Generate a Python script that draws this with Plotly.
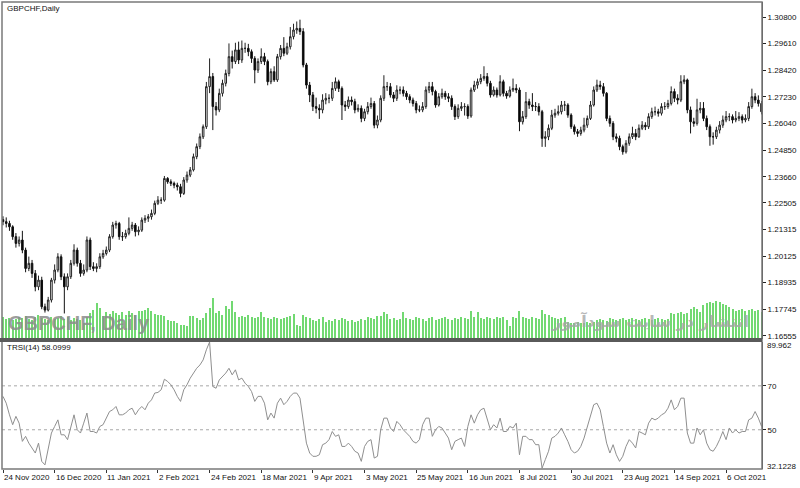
import plotly.graph_objects as go

symbol_label = "GBPCHF,Daily"
indicator_label = "TRSI(14) 58.0999"

date_labels = ["24 Nov 2020", "16 Dec 2020", "11 Jan 2021", "2 Feb 2021", "24 Feb 2021",
               "18 Mar 2021", "9 Apr 2021", "3 May 2021", "25 May 2021", "16 Jun 2021",
               "8 Jul 2021", "30 Jul 2021", "23 Aug 2021", "14 Sep 2021", "6 Oct 2021"]
date_label_bars = [0, 16, 32, 48, 64, 80, 96, 112, 128, 144, 160, 176, 192, 208, 224]

price_ticks = [1.30800, 1.29610, 1.28420, 1.27230, 1.26040, 1.24850, 1.23660,
               1.22505, 1.21315, 1.20125, 1.18935, 1.17745, 1.16555]
price_tick_text = ["1.30800", "1.29610", "1.28420", "1.27230", "1.26040", "1.24850", "1.23660",
                   "1.22505", "1.21315", "1.20125", "1.18935", "1.17745", "1.16555"]

close_ = [
    1.2166, 1.2158, 1.2143, 1.2099, 1.2069, 1.2084, 1.2039, 1.1957, 1.1980, 1.1935,
    1.1875, 1.1905, 1.1786, 1.1771, 1.1816, 1.1905, 1.1950, 1.2009, 1.1920, 1.1875,
    1.1920, 1.1980, 1.2039, 1.1980, 1.1935, 1.1950, 1.2084, 1.1965, 1.1957, 1.1965,
    1.2009, 1.2024, 1.2039, 1.2099, 1.2151, 1.2158, 1.2099, 1.2099, 1.2114, 1.2136,
    1.2151, 1.2121, 1.2128, 1.2173, 1.2181, 1.2188, 1.2203, 1.2248, 1.2262, 1.2262,
    1.2359, 1.2344, 1.2337, 1.2329, 1.2322, 1.2292, 1.2352, 1.2374, 1.2397, 1.2456,
    1.2501, 1.2545, 1.2590, 1.2769, 1.2814, 1.2680, 1.2665, 1.2739, 1.2784, 1.2828,
    1.2903, 1.2881, 1.2933, 1.2888, 1.2940, 1.2940, 1.2925, 1.2895, 1.2843, 1.2881,
    1.2903, 1.2881, 1.2791, 1.2836, 1.2799, 1.2903, 1.2940, 1.2918, 1.2947, 1.2992,
    1.3022, 1.3029, 1.3015, 1.2866, 1.2776, 1.2732, 1.2680, 1.2672, 1.2665, 1.2709,
    1.2717, 1.2717, 1.2761, 1.2791, 1.2761, 1.2687, 1.2680, 1.2709, 1.2702, 1.2665,
    1.2672, 1.2627, 1.2657, 1.2680, 1.2694, 1.2597, 1.2620, 1.2717, 1.2769, 1.2769,
    1.2732, 1.2717, 1.2754, 1.2754, 1.2739, 1.2724, 1.2709, 1.2694, 1.2665, 1.2665,
    1.2680, 1.2754, 1.2769, 1.2747, 1.2687, 1.2724, 1.2739, 1.2724, 1.2717, 1.2680,
    1.2635, 1.2672, 1.2680, 1.2680, 1.2638, 1.2754, 1.2776, 1.2791, 1.2806, 1.2814,
    1.2784, 1.2732, 1.2754, 1.2732, 1.2791, 1.2739, 1.2727, 1.2754, 1.2761, 1.2754,
    1.2612, 1.2635, 1.2702, 1.2687, 1.2680, 1.2680, 1.2657, 1.2538, 1.2545, 1.2583,
    1.2642, 1.2650, 1.2657, 1.2687, 1.2687, 1.2642, 1.2590, 1.2568, 1.2560, 1.2575,
    1.2597, 1.2627, 1.2687, 1.2754, 1.2776, 1.2769, 1.2739, 1.2627, 1.2605, 1.2545,
    1.2538, 1.2501, 1.2478, 1.2516, 1.2545, 1.2560, 1.2545, 1.2583, 1.2597, 1.2590,
    1.2635, 1.2657, 1.2657, 1.2650, 1.2680, 1.2680, 1.2694, 1.2747, 1.2717, 1.2709,
    1.2791, 1.2799, 1.2665, 1.2612, 1.2605, 1.2665, 1.2672, 1.2627, 1.2590, 1.2545,
    1.2545, 1.2575, 1.2597, 1.2620, 1.2635, 1.2635, 1.2620, 1.2627, 1.2635, 1.2620,
    1.2627, 1.2680, 1.2724, 1.2709, 1.2694, 1.2657]

open_ = [
    1.2175, 1.2166, 1.2158, 1.2143, 1.2099, 1.2069, 1.2084, 1.2039, 1.1957, 1.1980,
    1.1935, 1.1875, 1.1905, 1.1786, 1.1771, 1.1816, 1.1905, 1.1950, 1.2009, 1.1920,
    1.1875, 1.1920, 1.1980, 1.2039, 1.1980, 1.1935, 1.1950, 1.2084, 1.1965, 1.1957,
    1.1965, 1.2009, 1.2024, 1.2039, 1.2099, 1.2151, 1.2158, 1.2099, 1.2099, 1.2114,
    1.2136, 1.2151, 1.2121, 1.2128, 1.2173, 1.2181, 1.2188, 1.2203, 1.2248, 1.2262,
    1.2262, 1.2359, 1.2344, 1.2337, 1.2329, 1.2322, 1.2292, 1.2352, 1.2374, 1.2397,
    1.2456, 1.2501, 1.2545, 1.2590, 1.2769, 1.2814, 1.2680, 1.2665, 1.2739, 1.2784,
    1.2828, 1.2903, 1.2881, 1.2933, 1.2888, 1.2940, 1.2940, 1.2925, 1.2895, 1.2843,
    1.2881, 1.2903, 1.2881, 1.2791, 1.2836, 1.2799, 1.2903, 1.2940, 1.2918, 1.2947,
    1.2992, 1.3022, 1.3029, 1.3015, 1.2866, 1.2776, 1.2732, 1.2680, 1.2672, 1.2665,
    1.2709, 1.2717, 1.2717, 1.2761, 1.2791, 1.2761, 1.2687, 1.2680, 1.2709, 1.2702,
    1.2665, 1.2672, 1.2627, 1.2657, 1.2680, 1.2694, 1.2597, 1.2620, 1.2717, 1.2769,
    1.2769, 1.2732, 1.2717, 1.2754, 1.2754, 1.2739, 1.2724, 1.2709, 1.2694, 1.2665,
    1.2665, 1.2680, 1.2754, 1.2769, 1.2747, 1.2687, 1.2724, 1.2739, 1.2724, 1.2717,
    1.2680, 1.2635, 1.2672, 1.2680, 1.2680, 1.2638, 1.2754, 1.2776, 1.2791, 1.2806,
    1.2814, 1.2784, 1.2732, 1.2754, 1.2732, 1.2791, 1.2739, 1.2727, 1.2754, 1.2761,
    1.2754, 1.2612, 1.2635, 1.2702, 1.2687, 1.2680, 1.2680, 1.2657, 1.2538, 1.2545,
    1.2583, 1.2642, 1.2650, 1.2657, 1.2687, 1.2687, 1.2642, 1.2590, 1.2568, 1.2560,
    1.2575, 1.2597, 1.2627, 1.2687, 1.2754, 1.2776, 1.2769, 1.2739, 1.2627, 1.2605,
    1.2545, 1.2538, 1.2501, 1.2478, 1.2516, 1.2545, 1.2560, 1.2545, 1.2583, 1.2597,
    1.2590, 1.2635, 1.2657, 1.2657, 1.2650, 1.2680, 1.2680, 1.2694, 1.2747, 1.2717,
    1.2709, 1.2791, 1.2799, 1.2665, 1.2612, 1.2605, 1.2665, 1.2672, 1.2627, 1.2590,
    1.2545, 1.2545, 1.2575, 1.2597, 1.2620, 1.2635, 1.2635, 1.2620, 1.2627, 1.2635,
    1.2620, 1.2627, 1.2680, 1.2724, 1.2709, 1.2694]

high = [
    1.2190, 1.2185, 1.2170, 1.2150, 1.2115, 1.2100, 1.2125, 1.2050, 1.2010, 1.1995,
    1.1950, 1.1925, 1.1920, 1.1800, 1.1830, 1.1915, 1.1975, 1.2025, 1.2020, 1.1935,
    1.1935, 1.1995, 1.2065, 1.2050, 1.1995, 1.1975, 1.2100, 1.2095, 1.1985, 1.1980,
    1.2025, 1.2040, 1.2055, 1.2110, 1.2165, 1.2170, 1.2165, 1.2120, 1.2130, 1.2185,
    1.2165, 1.2160, 1.2145, 1.2185, 1.2195, 1.2200, 1.2220, 1.2260, 1.2280, 1.2275,
    1.2370, 1.2365, 1.2355, 1.2345, 1.2340, 1.2335, 1.2365, 1.2390, 1.2410, 1.2470,
    1.2515, 1.2560, 1.2600, 1.2790, 1.2895, 1.2830, 1.2700, 1.2760, 1.2800, 1.2845,
    1.2962, 1.2930, 1.2965, 1.2970, 1.2975, 1.2965, 1.2960, 1.2935, 1.2905, 1.2895,
    1.2940, 1.2920, 1.2890, 1.2850, 1.2860, 1.2915, 1.2955, 1.2990, 1.2965, 1.3035,
    1.3050, 1.3060, 1.3068, 1.3030, 1.2875, 1.2790, 1.2745, 1.2720, 1.2690, 1.2735,
    1.2740, 1.2735, 1.2790, 1.2810, 1.2800, 1.2770, 1.2705, 1.2725, 1.2725, 1.2715,
    1.2690, 1.2685, 1.2670, 1.2700, 1.2720, 1.2705, 1.2640, 1.2730, 1.2820, 1.2790,
    1.2785, 1.2745, 1.2775, 1.2770, 1.2770, 1.2750, 1.2735, 1.2720, 1.2705, 1.2685,
    1.2700, 1.2770, 1.2790, 1.2790, 1.2755, 1.2740, 1.2760, 1.2750, 1.2740, 1.2730,
    1.2690, 1.2690, 1.2700, 1.2695, 1.2690, 1.2765, 1.2795, 1.2805, 1.2825, 1.2860,
    1.2830, 1.2795, 1.2770, 1.2765, 1.2820, 1.2800, 1.2750, 1.2770, 1.2805, 1.2780,
    1.2765, 1.2660, 1.2745, 1.2715, 1.2740, 1.2700, 1.2695, 1.2665, 1.2570, 1.2600,
    1.2665, 1.2670, 1.2685, 1.2705, 1.2705, 1.2695, 1.2650, 1.2600, 1.2580, 1.2590,
    1.2630, 1.2640, 1.2705, 1.2770, 1.2800, 1.2795, 1.2785, 1.2745, 1.2640, 1.2615,
    1.2560, 1.2550, 1.2510, 1.2530, 1.2560, 1.2590, 1.2580, 1.2600, 1.2615, 1.2610,
    1.2650, 1.2675, 1.2680, 1.2670, 1.2695, 1.2700, 1.2710, 1.2770, 1.2760, 1.2735,
    1.2820, 1.2820, 1.2805, 1.2680, 1.2630, 1.2715, 1.2700, 1.2700, 1.2640, 1.2600,
    1.2565, 1.2590, 1.2615, 1.2640, 1.2660, 1.2650, 1.2645, 1.2660, 1.2655, 1.2645,
    1.2645, 1.2700, 1.2760, 1.2740, 1.2730, 1.2705]

low = [
    1.2150, 1.2140, 1.2125, 1.2085, 1.2050, 1.2055, 1.2025, 1.1940, 1.1945, 1.1915,
    1.1855, 1.1860, 1.1775, 1.1760, 1.1765, 1.1805, 1.1890, 1.1940, 1.1905, 1.1756,
    1.1860, 1.1910, 1.1970, 1.1965, 1.1920, 1.1925, 1.1940, 1.1950, 1.1945, 1.1940,
    1.1955, 1.2000, 1.2015, 1.2030, 1.2090, 1.2135, 1.2085, 1.2080, 1.2090, 1.2105,
    1.2125, 1.2100, 1.2105, 1.2120, 1.2160, 1.2165, 1.2175, 1.2195, 1.2240, 1.2245,
    1.2255, 1.2335, 1.2325, 1.2315, 1.2305, 1.2275, 1.2285, 1.2340, 1.2365, 1.2390,
    1.2445, 1.2490, 1.2535, 1.2580, 1.2740, 1.2575, 1.2640, 1.2655, 1.2725, 1.2770,
    1.2815, 1.2850, 1.2870, 1.2870, 1.2875, 1.2920, 1.2905, 1.2875, 1.2784, 1.2830,
    1.2870, 1.2865, 1.2775, 1.2780, 1.2790, 1.2790, 1.2890, 1.2905, 1.2910, 1.2935,
    1.2980, 1.3005, 1.3000, 1.2855, 1.2760, 1.2700, 1.2660, 1.2650, 1.2625, 1.2650,
    1.2690, 1.2695, 1.2705, 1.2750, 1.2745, 1.2620, 1.2660, 1.2670, 1.2685, 1.2650,
    1.2655, 1.2610, 1.2615, 1.2645, 1.2670, 1.2583, 1.2583, 1.2610, 1.2705, 1.2750,
    1.2720, 1.2700, 1.2705, 1.2735, 1.2725, 1.2710, 1.2695, 1.2680, 1.2650, 1.2655,
    1.2655, 1.2670, 1.2740, 1.2730, 1.2675, 1.2680, 1.2715, 1.2710, 1.2700, 1.2665,
    1.2620, 1.2625, 1.2660, 1.2640, 1.2625, 1.2630, 1.2745, 1.2760, 1.2780, 1.2795,
    1.2770, 1.2720, 1.2725, 1.2720, 1.2725, 1.2725, 1.2715, 1.2720, 1.2745, 1.2740,
    1.2570, 1.2600, 1.2625, 1.2670, 1.2660, 1.2660, 1.2640, 1.2500, 1.2500, 1.2530,
    1.2575, 1.2630, 1.2640, 1.2645, 1.2660, 1.2630, 1.2580, 1.2555, 1.2545, 1.2550,
    1.2565, 1.2585, 1.2620, 1.2680, 1.2745, 1.2755, 1.2725, 1.2615, 1.2590, 1.2530,
    1.2520, 1.2485, 1.2465, 1.2470, 1.2505, 1.2535, 1.2530, 1.2540, 1.2575, 1.2575,
    1.2580, 1.2625, 1.2640, 1.2635, 1.2640, 1.2665, 1.2670, 1.2685, 1.2700, 1.2690,
    1.2700, 1.2780, 1.2650, 1.2560, 1.2590, 1.2595, 1.2650, 1.2615, 1.2575, 1.2505,
    1.2510, 1.2535, 1.2560, 1.2585, 1.2610, 1.2615, 1.2605, 1.2610, 1.2615, 1.2605,
    1.2610, 1.2615, 1.2670, 1.2695, 1.2680, 1.2645]

# tick volume (thousands)
volume = [
    22, 20, 21, 19, 20, 22, 21, 23, 20, 19, 22, 24, 21, 20, 19, 22, 20, 21, 23, 20,
    22, 19, 21, 20,
    19, 16, 22, 26, 29, 36, 31, 23, 27, 25, 28, 26, 24, 27, 24, 28, 26, 24, 28, 28,
    29, 31, 28, 25, 24, 24, 23, 19, 18, 18, 16, 14, 14, 13, 23, 23, 21, 19, 21, 26, 31,
    41,
    26, 28, 24, 33, 30, 38, 27, 22, 23, 22, 24, 22, 21, 22,
    27, 22, 21, 20, 22, 21, 20, 21, 22, 23, 25, 14, 13,
    24, 22, 21, 19, 18, 20, 22, 17, 19, 18, 20, 19, 21, 20, 18, 19, 17, 18, 20, 19, 22, 21, 20, 23,
    23, 27, 25, 20, 21, 19, 20, 27, 21, 20, 19, 22, 21, 20, 18, 21, 22, 19, 20, 21, 22, 20, 19, 21,
    20, 22, 21, 20,
    28, 22, 27, 21, 20, 22, 21, 20, 22, 21, 22, 19, 13, 22, 21,
    28,
    22, 21, 20, 22, 21, 20, 29, 25, 24, 22, 21, 20, 21, 22,
    17, 16, 16, 17, 16, 16, 17, 16, 17,
    19, 20, 19, 18, 21, 20, 19, 20, 21, 19, 20, 21, 20, 19, 20, 21, 20, 19, 20, 21, 20, 19, 20,
    26, 25, 26, 27, 25, 26, 30, 32, 30, 27,
    34, 36, 37, 36, 38, 37, 35, 34, 32,
    30, 28, 29, 30, 28, 29, 30, 28, 29, 27]

trsi = [
    65.2, 62.1, 56.8, 52.3, 56.1, 53.0, 44.7, 47.0, 43.9, 41.7,
    39.4, 43.9, 35.6, 34.0, 40.9, 48.5, 51.5, 54.5, 47.7, 47.7,
    45.5, 51.5, 56.8, 50.0, 48.5, 53.0, 57.6, 49.2, 49.2, 48.5,
    51.5, 52.3, 55.3, 58.3, 59.1, 60.6, 56.8, 56.8, 57.6, 59.1,
    59.8, 56.8, 59.1, 60.6, 59.1, 62.1, 63.6, 66.7, 67.0, 68.2,
    73.0, 72.0, 70.5, 68.2, 65.2, 62.9, 68.2, 70.5, 73.5, 75.8,
    78.0, 79.5, 81.8, 86.4, 89.962, 69.7, 68.9, 72.7, 74.2, 75.8,
    78.0, 75.0, 77.3, 72.7, 73.5, 71.2, 69.7, 67.4, 62.9, 65.2,
    65.2, 62.1, 54.5, 57.6, 55.3, 62.1, 64.4, 61.4, 62.9, 65.2,
    66.7, 66.7, 64.4, 53.0, 43.9, 39.4, 37.9, 37.9, 38.6, 43.2,
    43.9, 45.5, 49.2, 47.0, 47.7, 42.4, 42.4, 43.9, 42.4, 40.2,
    39.4, 35.6, 42.4, 44.7, 45.5, 37.1, 37.9, 50.0, 55.3, 55.3,
    50.8, 49.2, 53.8, 52.3, 50.0, 48.5, 47.0, 44.7, 43.9, 45.5,
    52.3, 55.3, 55.3, 47.0, 50.0, 51.5, 50.8, 48.5, 46.2, 40.9,
    44.7, 45.5, 46.2, 42.4, 51.5, 56.8, 53.0, 56.8, 59.1, 59.8,
    55.3, 50.0, 52.3, 50.8, 55.3, 49.2, 49.2, 51.5, 50.8, 53.0,
    38.6, 47.0, 47.0, 45.5, 45.5, 43.2, 43.2, 32.5, 36.4, 40.2,
    46.2, 47.0, 48.5, 50.8, 47.7, 44.7, 40.9, 39.4, 40.2, 42.4,
    46.2, 51.5, 56.8, 61.4, 62.1, 59.1, 51.5, 43.9, 39.4, 43.2,
    38.6, 35.6, 37.9, 42.4, 45.5, 43.9, 41.7, 49.2, 48.5, 47.7,
    53.0, 55.3, 54.5, 55.3, 56.8, 57.6, 59.8, 63.6, 59.1, 60.6,
    64.4, 64.4, 48.5, 43.9, 43.9, 50.8, 47.7, 50.0, 43.9, 40.9,
    40.2, 42.4, 45.5, 49.2, 45.5, 50.8, 48.5, 50.0, 48.5, 49.2,
    49.2, 54.5, 55.3, 58.3, 55.3, 51.5]

trsi_levels = [70, 50]
trsi_min, trsi_max = 32.1228, 89.962

n = len(close_)
bars = list(range(n))

W, H = 800, 488
ML, MR, MT, MB = 2, 38, 2, 19
PW, PH = W - ML - MR, H - MT - MB
main_bottom_px = 339
ind_top_px = 342
main_dom = [(H - MB - main_bottom_px) / PH, 1.0]
ind_dom = [0.0, (H - MB - ind_top_px) / PH]

def py(ypix):
    return (H - MB - ypix) / PH

def px(xpix):
    return (xpix - ML) / PW

FONT = "Liberation Sans"
TXT = "#111111"

fig = go.Figure()

fig.add_trace(go.Bar(
    x=bars, y=volume, xaxis="x", yaxis="y", width=0.32,
    marker=dict(color="#72d972", line=dict(width=0)),
    hoverinfo="skip", showlegend=False))

fig.add_trace(go.Candlestick(
    x=bars, open=open_, high=high, low=low, close=close_,
    xaxis="x", yaxis="y3", whiskerwidth=0,
    increasing=dict(line=dict(color="#222222", width=1), fillcolor="#ffffff"),
    decreasing=dict(line=dict(color="#111111", width=1), fillcolor="#000000"),
    hoverinfo="skip", showlegend=False))

fig.add_trace(go.Scatter(
    x=bars, y=trsi, xaxis="x", yaxis="y2", mode="lines",
    line=dict(color="#8f8f8f", width=1), hoverinfo="skip", showlegend=False))

shapes = []
for lv in trsi_levels:
    shapes.append(dict(type="line", xref="paper", yref="y2", x0=0, x1=1, y0=lv, y1=lv,
                       line=dict(color="#a8a8a8", width=1, dash="3px,3px"), layer="below"))
# frame and separator
shapes.append(dict(type="rect", xref="paper", yref="paper", x0=0, x1=1, y0=0, y1=1,
                   line=dict(color="#7a7a7a", width=1.5)))
shapes.append(dict(type="rect", xref="paper", yref="paper", x0=-0.003, x1=1,
                   y0=py(ind_top_px), y1=py(main_bottom_px - 1),
                   fillcolor="#5a5a5a", line=dict(width=0)))

annotations = [
    dict(text=symbol_label, xref="paper", yref="paper", x=px(5), y=py(8.5),
         xanchor="left", yanchor="middle", showarrow=False,
         font=dict(family=FONT, size=8, color=TXT)),
    dict(text=indicator_label, xref="paper", yref="paper", x=px(5), y=py(347),
         xanchor="left", yanchor="middle", showarrow=False,
         font=dict(family=FONT, size=8, color=TXT)),
    dict(text=f"{trsi_max:.3f}", xref="paper", yref="paper", x=1, y=py(345.5),
         xanchor="left", yanchor="middle", xshift=3, showarrow=False,
         font=dict(family=FONT, size=8, color=TXT)),
    dict(text=f"{trsi_min:.4f}", xref="paper", yref="paper", x=1, y=py(466),
         xanchor="left", yanchor="middle", xshift=3, showarrow=False,
         font=dict(family=FONT, size=8, color=TXT)),
    dict(text="<b>GBPCHF, Daily</b>", xref="paper", yref="paper", x=px(6), y=py(323),
         xanchor="left", yanchor="middle", showarrow=False,
         font=dict(family=FONT, size=20, color="rgba(140,140,140,0.85)")),
    dict(text="<b>انتشار در سایت سودآموز</b>", xref="paper", yref="paper", x=px(751), y=py(321),
         xanchor="right", yanchor="middle", showarrow=False,
         font=dict(family="DejaVu Sans", size=16, color="rgba(165,165,165,0.8)")),
]
for b, lab in zip(date_label_bars, date_labels):
    annotations.append(dict(text=lab, xref="x", yref="paper", x=b, y=0,
                            xanchor="left", yanchor="top", yshift=-2, xshift=-1,
                            showarrow=False, font=dict(family=FONT, size=8, color=TXT)))

x_left = (ML - 3) / 3.228
x_right = x_left + PW / 3.228

fig.update_layout(
    width=W, height=H, margin=dict(l=ML, r=MR, t=MT, b=MB),
    paper_bgcolor="white", plot_bgcolor="white", showlegend=False,
    xaxis=dict(range=[x_left, x_right], anchor="y2", tickvals=date_label_bars,
               ticktext=[""] * len(date_label_bars), ticks="outside", ticklen=3,
               tickcolor="#333333", showgrid=False, zeroline=False, showline=False,
               rangeslider=dict(visible=False), fixedrange=True),
    yaxis=dict(domain=main_dom, range=[0, main_bottom_px - MT], visible=False,
               showgrid=False, fixedrange=True),
    yaxis3=dict(overlaying="y", anchor="x", side="right",
                range=[1.308 - (main_bottom_px - 17) * 0.0004466, 1.308 + (17 - MT) * 0.0004466],
                tickvals=price_ticks, ticktext=price_tick_text, ticks="outside", ticklen=3,
                tickcolor="#222222", showgrid=False, zeroline=False, showline=True,
                linecolor="#444444", linewidth=1,
                tickfont=dict(family=FONT, size=8, color=TXT), fixedrange=True),
    yaxis2=dict(domain=ind_dom, anchor="x", side="right", range=[trsi_min, trsi_max],
                tickvals=trsi_levels, ticktext=[str(v) for v in trsi_levels],
                ticks="outside", ticklen=3, tickcolor="#222222", showgrid=False,
                zeroline=False, showline=True, linecolor="#444444", linewidth=1,
                tickfont=dict(family=FONT, size=8, color=TXT), fixedrange=True),
    shapes=shapes, annotations=annotations,
)

fig.write_html("out.html")
